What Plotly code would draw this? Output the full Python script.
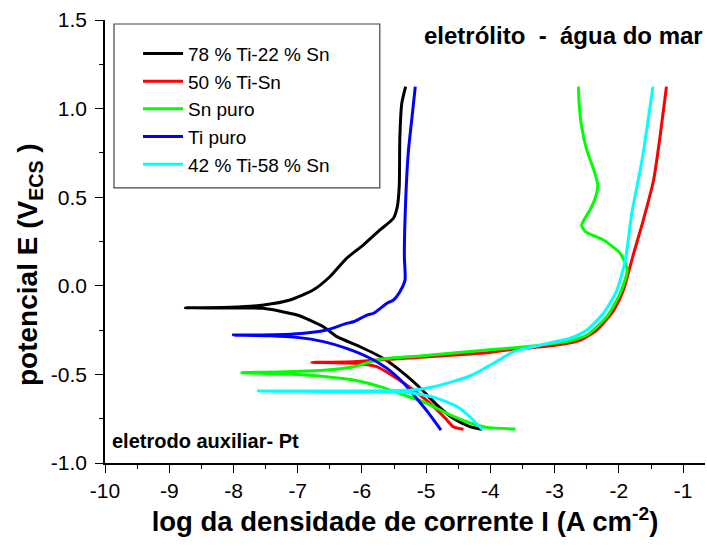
import plotly.graph_objects as go

# 78 % Ti-22 % Sn (cathodic end -> Ecorr -> anodic end)
black_x = [-4.13, -4.32, -4.58, -4.83, -5.09, -5.35, -5.67, -6.03, -6.39, -6.60, -7.01, -7.54, -8.05, -8.75,
           -8.05, -7.53, -7.12, -6.76, -6.50, -6.24, -5.98, -5.72, -5.51, -5.45, -5.42, -5.41, -5.38, -5.32]
black_y = [-0.810, -0.795, -0.748, -0.673, -0.578, -0.494, -0.409, -0.344, -0.287, -0.231, -0.165, -0.127, -0.125, -0.124,
           -0.121, -0.108, -0.080, -0.024, 0.051, 0.155, 0.230, 0.315, 0.381, 0.446, 0.559, 0.841, 1.030, 1.124]

# 50 % Ti-Sn
red_x = [-4.42, -4.58, -4.70, -4.94, -5.20, -5.46, -5.77, -6.13, -6.78,
         -6.13, -5.09, -4.06, -3.74, -2.96, -2.60, -2.34, -2.08, -1.93, -1.77, -1.62, -1.46, -1.36, -1.26]
red_y = [-0.810, -0.795, -0.748, -0.663, -0.588, -0.522, -0.456, -0.437, -0.432,
         -0.428, -0.403, -0.378, -0.362, -0.334, -0.306, -0.249, -0.137, -0.024, 0.183, 0.371, 0.597, 0.841, 1.124]

# Sn puro
green_x = [-3.61, -4.06, -4.37, -4.68, -4.99, -5.35, -5.72, -6.13, -6.55, -7.17, -7.87,
           -7.17, -6.55, -6.13, -5.72, -5.09, -4.06, -3.74, -2.81, -2.50, -2.19, -1.98, -1.87,
           -1.98, -2.24, -2.52, -2.58, -2.45, -2.37, -2.33, -2.39, -2.50, -2.58, -2.62, -2.63]
green_y = [-0.808, -0.799, -0.767, -0.720, -0.663, -0.616, -0.569, -0.532, -0.513, -0.498, -0.490,
           -0.485, -0.475, -0.457, -0.415, -0.396, -0.362, -0.353, -0.315, -0.278, -0.174, -0.042, 0.089,
           0.183, 0.258, 0.305, 0.343, 0.428, 0.494, 0.569, 0.654, 0.766, 0.898, 1.030, 1.124]

# Ti puro
blue_x = [-4.77, -4.96, -5.15, -5.35, -5.61, -5.87, -6.24, -6.60, -7.01, -7.43, -8.00,
          -7.69, -7.07, -6.55, -6.24, -6.13, -5.92, -5.82, -5.61, -5.51, -5.41, -5.33, -5.34, -5.33, -5.28, -5.22, -5.17]
blue_y = [-0.814, -0.720, -0.635, -0.550, -0.466, -0.409, -0.353, -0.315, -0.291, -0.282, -0.278,
          -0.278, -0.272, -0.249, -0.212, -0.203, -0.165, -0.155, -0.099, -0.080, -0.033, 0.032, 0.164, 0.371, 0.748, 0.954, 1.124]

# 42 % Ti-58 % Sn
cyan_x = [-4.13, -4.32, -4.52, -4.83, -5.20, -5.61, -6.65, -7.61,
          -6.65, -5.61, -5.20, -4.83, -4.32, -3.95, -3.64, -3.22, -2.76, -2.50, -2.24, -2.03, -1.90,
          -1.80, -1.72, -1.64, -1.56, -1.47]
cyan_y = [-0.810, -0.739, -0.682, -0.635, -0.607, -0.598, -0.596, -0.594,
          -0.594, -0.592, -0.588, -0.565, -0.509, -0.437, -0.372, -0.334, -0.296, -0.249, -0.155, -0.024, 0.146,
          0.409, 0.559, 0.710, 0.898, 1.124]

series = [
    ("78 % Ti-22 % Sn", black_x, black_y, "#000000"),
    ("50 % Ti-Sn", red_x, red_y, "#ff0000"),
    ("Sn puro", green_x, green_y, "#00ff00"),
    ("Ti puro", blue_x, blue_y, "#0000ff"),
    ("42 % Ti-58 % Sn", cyan_x, cyan_y, "#00ffff"),
]

x_ticks = [-10, -9, -8, -7, -6, -5, -4, -3, -2, -1]
y_ticks = [-1.0, -0.5, 0.0, 0.5, 1.0, 1.5]

fig = go.Figure()
for name, xs, ys, col in series:
    fig.add_trace(go.Scatter(x=xs, y=ys, mode="lines", name=name,
                             line=dict(color=col, width=3, shape="spline", smoothing=0.6)))

font_family = "Liberation Sans, Arial, sans-serif"
fig.update_layout(
    width=707, height=547,
    margin=dict(l=105, r=2, t=20, b=84),
    paper_bgcolor="white", plot_bgcolor="white",
    font=dict(family=font_family, color="black", size=21),
    showlegend=True,
    legend=dict(x=0.055, y=0.967, xanchor="left", yanchor="top",
                borderwidth=0, bgcolor="rgba(0,0,0,0)",
                font=dict(size=19, family=font_family), tracegroupgap=0,
                itemwidth=40),
    xaxis=dict(range=[-10, -0.66], tickvals=x_ticks, ticktext=[str(v) for v in x_ticks],
               ticks="outside", ticklen=8, tickwidth=1.3, tickcolor="black",
               showline=True, linecolor="black", linewidth=1.6,
               showgrid=False, zeroline=False,
               minor=dict(dtick=0.5, tick0=0, ticks="outside", ticklen=4, tickcolor="black", showgrid=False),
               tickfont=dict(size=21),
               title=dict(text="<b>log da densidade de corrente I (A cm<sup>-2</sup>)</b>",
                          font=dict(size=27.5), standoff=11)),
    yaxis=dict(range=[-1.0, 1.5], tickvals=y_ticks, ticktext=[f"{v:.1f}" for v in y_ticks],
               ticks="outside", ticklen=8, tickwidth=1.3, tickcolor="black",
               showline=True, linecolor="black", linewidth=1.6,
               showgrid=False, zeroline=False, ticklabelstandoff=4,
               minor=dict(dtick=0.25, tick0=0, ticks="outside", ticklen=4, tickcolor="black", showgrid=False),
               tickfont=dict(size=21)),
)

# y-axis title (placed as rotated text to match the reference's offset position)
fig.add_annotation(xref="paper", yref="paper", x=-0.125, y=0.447, xanchor="center", yanchor="middle",
                   textangle=-90, text="<b>potencial E (V<sub>ECS</sub> )</b>", showarrow=False,
                   font=dict(size=28))

# legend frame
fig.add_shape(type="rect", xref="paper", yref="paper", x0=0.015, x1=0.458, y0=0.621, y1=0.991,
              line=dict(color="#444444", width=1.2), fillcolor="rgba(0,0,0,0)", layer="above")

fig.add_annotation(xref="paper", yref="paper", x=1.0, y=0.966, xanchor="right", yanchor="middle",
                   text="<b>eletrólito&nbsp;&nbsp;-&nbsp;&nbsp;água do mar</b>", showarrow=False, font=dict(size=24))
fig.add_annotation(xref="paper", yref="paper", x=0.008, y=0.05, xanchor="left", yanchor="middle",
                   text="<b>eletrodo auxiliar- Pt</b>", showarrow=False, font=dict(size=20))

fig.write_html("out.html")
